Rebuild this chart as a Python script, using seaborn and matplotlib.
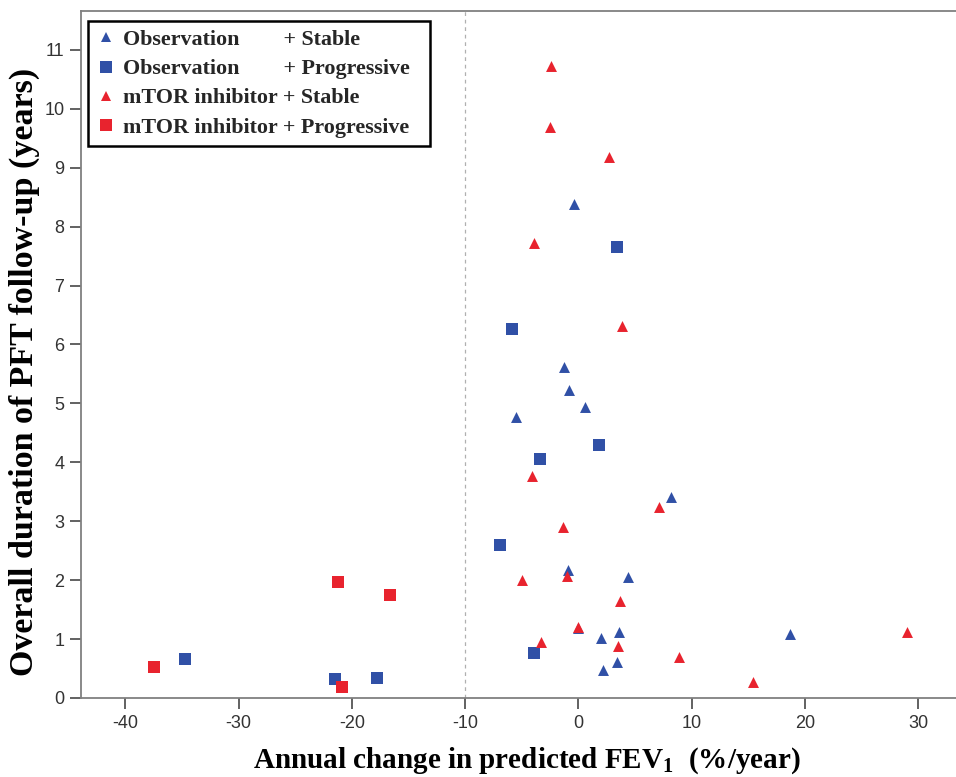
import numpy as np
import pandas as pd
import matplotlib
matplotlib.use("Agg")
import matplotlib.pyplot as plt
import seaborn as sns
from matplotlib.lines import Line2D

# ---- data ----
obs_stable_x = [-0.4, -1.3, -0.8, 0.6, -5.5, 8.2, -0.9, 4.4, 0.0, 2.0, 3.6, 2.2, 3.4, 18.7]
obs_stable_y = [8.39, 5.61, 5.22, 4.94, 4.77, 3.41, 2.17, 2.06, 1.18, 1.01, 1.12, 0.48, 0.61, 1.09]

obs_prog_x = [3.4, -5.9, 1.8, -3.4, -6.9, -3.9, -34.7, -21.5, -17.8]
obs_prog_y = [7.65, 6.27, 4.30, 4.05, 2.60, 0.76, 0.66, 0.33, 0.34]

mtor_stable_x = [-2.4, -2.5, 2.7, -3.9, 3.8, -4.1, 7.1, -1.4, -5.0, -1.0, 3.7, 0.0, -3.3, 3.5, 8.9, 15.4, 29.0]
mtor_stable_y = [10.72, 9.69, 9.19, 7.72, 6.32, 3.77, 3.24, 2.91, 2.01, 2.07, 1.64, 1.21, 0.95, 0.89, 0.69, 0.28, 1.12]

mtor_prog_x = [-21.2, -16.6, -37.5, -20.9]
mtor_prog_y = [1.97, 1.75, 0.53, 0.19]

treatments = ["Observation", "Observation", "mTOR inhibitor", "mTOR inhibitor"]
statuses = ["Stable", "Progressive", "Stable", "Progressive"]
xticks = [-40, -30, -20, -10, 0, 10, 20, 30]
yticks = list(range(0, 12))

series = [(obs_stable_x, obs_stable_y), (obs_prog_x, obs_prog_y),
          (mtor_stable_x, mtor_stable_y), (mtor_prog_x, mtor_prog_y)]

frames = []
for (xs, ys), tr, st in zip(series, treatments, statuses):
    frames.append(pd.DataFrame({"x": xs, "y": ys, "treatment": tr, "status": st}))
df = pd.concat(frames, ignore_index=True)

BLUE = "#3050A6"
RED = "#E8232E"
palette = {"Observation": BLUE, "mTOR inhibitor": RED}
markers = {"Stable": "^", "Progressive": "s"}
sizes = {"Stable": 62, "Progressive": 78}

sns.set_theme(style="white")
plt.rcParams["font.family"] = ["Liberation Sans", "DejaVu Sans"]
plt.rcParams["mathtext.fontset"] = "custom"
plt.rcParams["mathtext.rm"] = "Liberation Serif:bold"
plt.rcParams["mathtext.bf"] = "Liberation Serif:bold"

fig = plt.figure(figsize=(9.56, 7.77), dpi=100)
ax = fig.add_axes([81 / 956, 79 / 777, 885 / 956, 687 / 777])

ax.axvline(-10, color="#b0b0b0", lw=0.9, ls=(0, (3, 3)), zorder=1)

for tr, st in zip(treatments, statuses):
    sub = df[(df.treatment == tr) & (df.status == st)]
    sns.scatterplot(data=sub, x="x", y="y", color=palette[tr], marker=markers[st],
                    s=sizes[st], linewidth=0, legend=False, ax=ax, zorder=3)

ax.set_xlim(-43.9, 34.2)
ax.set_ylim(0, 11.66)
ax.set_xticks(xticks)
ax.set_yticks(yticks)
ax.set_xticklabels([str(t) for t in xticks])
ax.set_yticklabels([str(t) for t in yticks])
ax.tick_params(axis="both", which="major", bottom=True, left=True, direction="out",
               length=8, width=1.3, color="#555555", labelsize=13, labelcolor="#333333", pad=4)

for sp in ax.spines.values():
    sp.set_color("#808080")
    sp.set_linewidth(1.3)

serif = dict(family="Liberation Serif", weight="bold", color="black")
ax.set_xlabel("Annual change in predicted FEV$_\\mathbf{1}$  (%/year)", fontsize=21, **serif)
ax.set_ylabel("Overall duration of PFT follow-up (years)", fontsize=24.5, **serif)
ax.yaxis.set_label_coords(-0.046, 0.475)
ax.xaxis.set_label_coords(0.504, -0.069)

# ---- legend with aligned second column ----
leg_fs = 15.8
fs_px = leg_fs * 100 / 72
renderer = fig.canvas.get_renderer()

def text_w(s):
    t = fig.text(0, 0, s, family="Liberation Serif", weight="bold", fontsize=leg_fs)
    w = t.get_window_extent(renderer).width
    t.remove()
    return w

target = text_w("mTOR inhibitor + Stable")
best_n, best_err = 1, 1e9
for n in range(1, 25):
    err = abs(text_w("Observation" + " " * n + "+ Stable") - target)
    if err < best_err:
        best_n, best_err = n, err

labels = []
for tr, st in zip(treatments, statuses):
    sep = " " * best_n if tr == "Observation" else " "
    labels.append(tr + sep + "+ " + st)

bpad, hlen, hpad = 0.4, 0.82, 0.39
need_w = (431 - 88) - (2 * bpad + hlen + hpad) * fs_px
longest = "mTOR inhibitor + Progressive"
best_t, best_err = 0, 1e9
for n in range(0, 12):
    err = abs(text_w(longest + " " * n) - need_w)
    if err < best_err:
        best_t, best_err = n, err
labels = [l + " " * best_t for l in labels]

handles = [Line2D([], [], linestyle="", marker=markers[st], color=palette[tr],
                  markeredgewidth=0, markersize=(7.8 if st == "Stable" else 8.6))
           for tr, st in zip(treatments, statuses)]

leg = ax.legend(handles, labels, loc="upper left",
                bbox_to_anchor=(88 / 956, 1 - 21 / 777), bbox_transform=fig.transFigure,
                borderaxespad=0, frameon=True, fancybox=False, borderpad=bpad,
                handlelength=hlen, handletextpad=hpad, labelspacing=0.4,
                prop=dict(family="Liberation Serif", weight="bold", size=leg_fs))
fr = leg.get_frame()
fr.set_edgecolor("black")
fr.set_linewidth(1.8)
fr.set_facecolor("white")
fr.set_alpha(1)

fig.savefig("out.png", dpi=100)
